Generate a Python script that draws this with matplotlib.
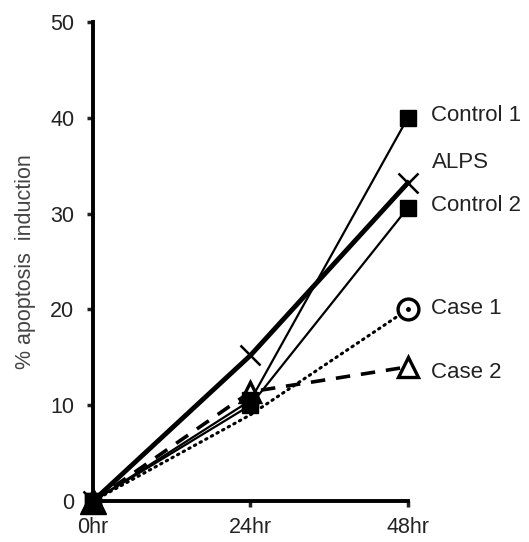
import matplotlib
matplotlib.use("Agg")
import matplotlib.pyplot as plt

plt.rcParams["font.family"] = ["Liberation Sans", "DejaVu Sans"]

# ---- data ----
hours = [0, 24, 48]
tick_labels = ["0hr", "24hr", "48hr"]
control1 = [0, 10.5, 40]
control2 = [0, 10, 30.6]
alps = [0, 15.2, 33.2]
case1 = [0, 9, 20]
case2 = [0, 11.4, 14]
series_names = ["Control 1", "ALPS", "Control 2", "Case 1", "Case 2"]
label_values = [40.2, 35.3, 30.8, 20.1, 13.4]

fig = plt.figure(figsize=(5.29, 5.42), dpi=100)
ax = fig.add_axes([0.176, 0.0756, 0.595, 0.884])

ax.plot(hours, case1, color="black", lw=2.2, ls=(0, (0.5, 1.6)), dash_capstyle="round",
        marker="o", markevery=[2], ms=15, mfc="white", mec="black", mew=2.4,
        zorder=3, clip_on=False)
ax.plot(hours[2:], case1[2:], ls="none", marker="o", ms=2.5, color="black", zorder=4, clip_on=False)
ax.plot(hours, case2, color="black", lw=2.6, ls=(0, (4, 3)),
        marker="^", ms=15, mfc="white", mec="black", mew=2.4, zorder=3, clip_on=False)
ax.plot(hours, control2, color="black", lw=1.6, marker="s", ms=11, mfc="black", mec="black",
        zorder=3, clip_on=False)
ax.plot(hours, control1, color="black", lw=1.6, marker="s", ms=11, mfc="black", mec="black",
        zorder=3, clip_on=False)
ax.plot(hours, alps, color="black", lw=3.5, marker="x", ms=15, mew=1.8, zorder=3, clip_on=False)
# filled blob at the origin
ax.plot(hours[:1], case2[:1], ls="none", marker="^", ms=19, color="black", zorder=5, clip_on=False)

for name, val in zip(series_names, label_values):
    ax.annotate(name, xy=(48, val), xytext=(17, 0), textcoords="offset points",
                va="center", ha="left", fontsize=16, color="#222222", annotation_clip=False)

ax.set_xlim(0, 48)
ax.set_ylim(0, 50)
ax.set_xticks(hours)
ax.set_xticklabels(tick_labels)
ax.set_yticks(range(0, 51, 10))
ax.tick_params(axis="both", labelsize=15.5, colors="#222222", width=2.5, length=4.5, direction="out")
ax.tick_params(axis="y", pad=9)
ax.tick_params(axis="x", pad=7)
ax.set_ylabel("% apoptosis  induction", fontsize=15.5, color="#444444", labelpad=10)

for side in ["top", "right"]:
    ax.spines[side].set_visible(False)
for side in ["left", "bottom"]:
    ax.spines[side].set_linewidth(2.8)

fig.savefig("out.png", dpi=100)
